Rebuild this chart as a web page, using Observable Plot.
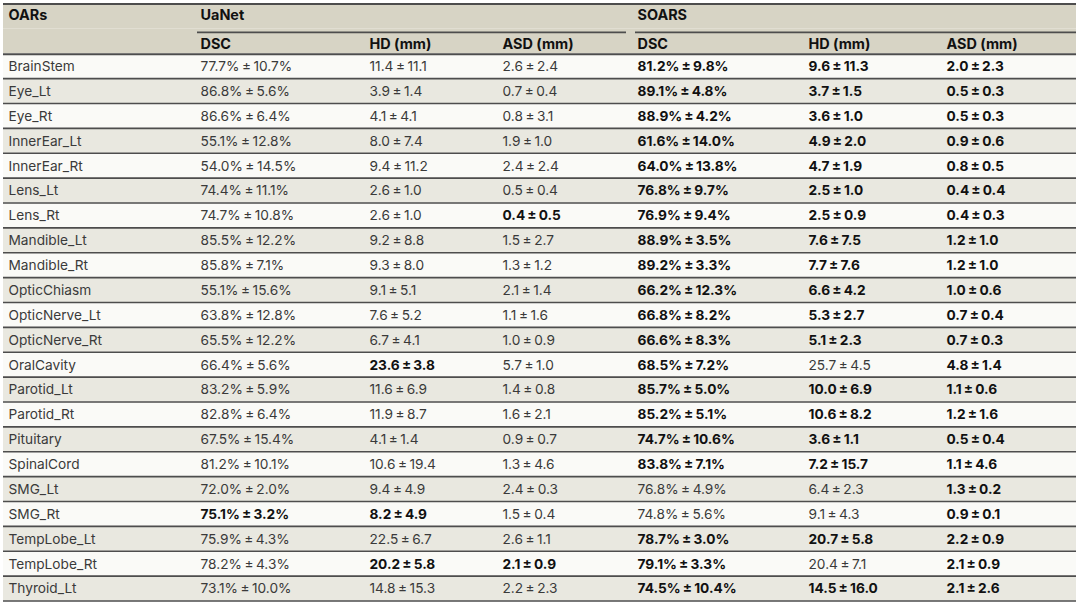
<!DOCTYPE html>
<html>
<head>
<meta charset="utf-8">
<script src="https://cdn.jsdelivr.net/npm/d3@7"></script>
<script src="https://cdn.jsdelivr.net/npm/@observablehq/plot@0.6"></script>
<style>
  html, body { margin: 0; padding: 0; background: #ffffff; }
  #chart svg { display: block; }
</style>
</head>
<body>
<div id="chart"></div>
<script>
// ---------- data ----------
const organs = ["BrainStem","Eye_Lt","Eye_Rt","InnerEar_Lt","InnerEar_Rt","Lens_Lt","Lens_Rt","Mandible_Lt","Mandible_Rt","OpticChiasm","OpticNerve_Lt","OpticNerve_Rt","OralCavity","Parotid_Lt","Parotid_Rt","Pituitary","SpinalCord","SMG_Lt","SMG_Rt","TempLobe_Lt","TempLobe_Rt","Thyroid_Lt"];

const methods = ["UaNet", "SOARS"];
const metrics = ["DSC", "HD (mm)", "ASD (mm)"];

const uanetDscMean = [77.7,86.8,86.6,55.1,54.0,74.4,74.7,85.5,85.8,55.1,63.8,65.5,66.4,83.2,82.8,67.5,81.2,72.0,75.1,75.9,78.2,73.1];
const uanetDscSd   = [10.7,5.6,6.4,12.8,14.5,11.1,10.8,12.2,7.1,15.6,12.8,12.2,5.6,5.9,6.4,15.4,10.1,2.0,3.2,4.3,4.3,10.0];
const uanetHdMean  = [11.4,3.9,4.1,8.0,9.4,2.6,2.6,9.2,9.3,9.1,7.6,6.7,23.6,11.6,11.9,4.1,10.6,9.4,8.2,22.5,20.2,14.8];
const uanetHdSd    = [11.1,1.4,4.1,7.4,11.2,1.0,1.0,8.8,8.0,5.1,5.2,4.1,3.8,6.9,8.7,1.4,19.4,4.9,4.9,6.7,5.8,15.3];
const uanetAsdMean = [2.6,0.7,0.8,1.9,2.4,0.5,0.4,1.5,1.3,2.1,1.1,1.0,5.7,1.4,1.6,0.9,1.3,2.4,1.5,2.6,2.1,2.2];
const uanetAsdSd   = [2.4,0.4,3.1,1.0,2.4,0.4,0.5,2.7,1.2,1.4,1.6,0.9,1.0,0.8,2.1,0.7,4.6,0.3,0.4,1.1,0.9,2.3];

const soarsDscMean = [81.2,89.1,88.9,61.6,64.0,76.8,76.9,88.9,89.2,66.2,66.8,66.6,68.5,85.7,85.2,74.7,83.8,76.8,74.8,78.7,79.1,74.5];
const soarsDscSd   = [9.8,4.8,4.2,14.0,13.8,9.7,9.4,3.5,3.3,12.3,8.2,8.3,7.2,5.0,5.1,10.6,7.1,4.9,5.6,3.0,3.3,10.4];
const soarsHdMean  = [9.6,3.7,3.6,4.9,4.7,2.5,2.5,7.6,7.7,6.6,5.3,5.1,25.7,10.0,10.6,3.6,7.2,6.4,9.1,20.7,20.4,14.5];
const soarsHdSd    = [11.3,1.5,1.0,2.0,1.9,1.0,0.9,7.5,7.6,4.2,2.7,2.3,4.5,6.9,8.2,1.1,15.7,2.3,4.3,5.8,7.1,16.0];
const soarsAsdMean = [2.0,0.5,0.5,0.9,0.8,0.4,0.4,1.2,1.2,1.0,0.7,0.7,4.8,1.1,1.2,0.5,1.1,1.3,0.9,2.2,2.1,2.1];
const soarsAsdSd   = [2.3,0.3,0.3,0.6,0.5,0.4,0.3,1.0,1.0,0.6,0.4,0.3,1.4,0.6,1.6,0.4,4.6,0.2,0.1,0.9,0.9,2.6];

// organs whose value is shown in bold (best result) for each column
const boldUanetDsc = ["SMG_Rt"];
const boldUanetHd  = ["OralCavity","SMG_Rt","TempLobe_Rt"];
const boldUanetAsd = ["Lens_Rt","TempLobe_Rt"];
const boldSoarsDsc = organs.filter(o => !["SMG_Lt","SMG_Rt"].includes(o));
const boldSoarsHd  = organs.filter(o => !["OralCavity","SMG_Lt","SMG_Rt","TempLobe_Rt"].includes(o));
const boldSoarsAsd = organs.slice();

// ---------- layout & style ----------
const W = 1080, H = 605;
const layout = {
  left: 3, right: 1076,
  colX: {organ: 8, uDSC: 200, uHD: 369, uASD: 502, sDSC: 637, sHD: 808, sASD: 946},
  groupLine: {UaNet: [197, 626], SOARS: [635, 1076]},
  marginTop: 3.5, marginBottom: 4.5
};
const style = {
  font: "Inter, 'Noto Sans', sans-serif",
  fontSize: 13.7,
  headerSize: 14.4,
  headerFill: "#d7d4c5",
  rowEven: "#fafaf7",
  rowOdd: "#e9e8e0",
  line: "#4d4d4d",
  text: "#3a3a3a",
  bold: "#111111"
};

// ---------- build table ----------
const pm = "\u2009±\u2009";
const fmtPct = (m, s) => `${m.toFixed(1)}%${pm}${s.toFixed(1)}%`;
const fmtNum = (m, s) => `${m.toFixed(1)}${pm}${s.toFixed(1)}`;

const columns = [
  {key: "uDSC", mean: uanetDscMean, sd: uanetDscSd, fmt: fmtPct, bold: boldUanetDsc},
  {key: "uHD",  mean: uanetHdMean,  sd: uanetHdSd,  fmt: fmtNum, bold: boldUanetHd},
  {key: "uASD", mean: uanetAsdMean, sd: uanetAsdSd, fmt: fmtNum, bold: boldUanetAsd},
  {key: "sDSC", mean: soarsDscMean, sd: soarsDscSd, fmt: fmtPct, bold: boldSoarsDsc},
  {key: "sHD",  mean: soarsHdMean,  sd: soarsHdSd,  fmt: fmtNum, bold: boldSoarsHd},
  {key: "sASD", mean: soarsAsdMean, sd: soarsAsdSd, fmt: fmtNum, bold: boldSoarsAsd}
];

const cells = [];
organs.forEach((o, i) => {
  cells.push({row: o, col: "organ", text: o, bold: false});
  for (const c of columns) {
    cells.push({row: o, col: c.key, text: c.fmt(c.mean[i], c.sd[i]), bold: c.bold.includes(o)});
  }
});

const H1 = "__h1", H2 = "__h2";
const yDomain = [H1, H2, ...organs];
const yRange = [layout.marginTop, H - layout.marginBottom];
const bw = (yRange[1] - yRange[0]) / yDomain.length;

const header1 = [
  {row: H1, col: "organ", text: "OARs"},
  {row: H1, col: "uDSC", text: methods[0]},
  {row: H1, col: "sDSC", text: methods[1]}
];
const header2 = [
  {row: H2, col: "uDSC", text: metrics[0]},
  {row: H2, col: "uHD",  text: metrics[1]},
  {row: H2, col: "uASD", text: metrics[2]},
  {row: H2, col: "sDSC", text: metrics[0]},
  {row: H2, col: "sHD",  text: metrics[1]},
  {row: H2, col: "sASD", text: metrics[2]}
];
const groupLines = methods.map(m => ({m, x1: layout.groupLine[m][0], x2: layout.groupLine[m][1]}));

const X = d => layout.colX[d.col];
const textCommon = {x: X, y: "row", text: "text", textAnchor: "start", fontSize: style.fontSize};
const headCommon = {...textCommon, fontSize: style.headerSize, fontWeight: "bold", fill: style.bold};

const chart = Plot.plot({
  width: W,
  height: H,
  marginTop: layout.marginTop,
  marginBottom: layout.marginBottom,
  marginLeft: 0,
  marginRight: 0,
  style: {fontFamily: style.font, background: "#ffffff"},
  x: {type: "linear", domain: [0, W], range: [0, W], axis: null},
  y: {type: "band", domain: yDomain, padding: 0, round: false, axis: null},
  marks: [
    // backgrounds
    Plot.barX([H1, H2], {y: d => d, x1: layout.left, x2: layout.right, fill: style.headerFill}),
    Plot.barX(organs.filter((o, i) => i % 2 === 0), {y: d => d, x1: layout.left, x2: layout.right, fill: style.rowEven}),
    Plot.barX(organs.filter((o, i) => i % 2 === 1), {y: d => d, x1: layout.left, x2: layout.right, fill: style.rowOdd}),
    // row separators
    Plot.ruleY(organs, {y: d => d, dy: bw / 2, x1: layout.left, x2: layout.right, stroke: style.line, strokeWidth: 1.6}),
    // table top border
    Plot.ruleY([H1], {y: d => d, dy: -bw / 2, x1: layout.left, x2: layout.right, stroke: style.line, strokeWidth: 2}),
    // header bottom border
    Plot.ruleY([H2], {y: d => d, dy: bw / 2 + 0.5, x1: layout.left, x2: layout.right, stroke: style.line, strokeWidth: 2}),
    // group underlines
    Plot.ruleY(groupLines, {y: () => H1, dy: bw / 2 + 3.5, x1: "x1", x2: "x2", stroke: style.line, strokeWidth: 1.6}),
    // header text
    Plot.text(header1, {...headCommon, dy: -1}),
    Plot.text(header2, {...headCommon, dy: 3}),
    // body text
    Plot.text(cells.filter(d => !d.bold), {...textCommon, fill: style.text, dy: 0.5}),
    Plot.text(cells.filter(d => d.bold), {...textCommon, fontWeight: "bold", fill: style.bold, dy: 0.5})
  ]
});

document.getElementById("chart").appendChild(chart);
</script>
</body>
</html>
